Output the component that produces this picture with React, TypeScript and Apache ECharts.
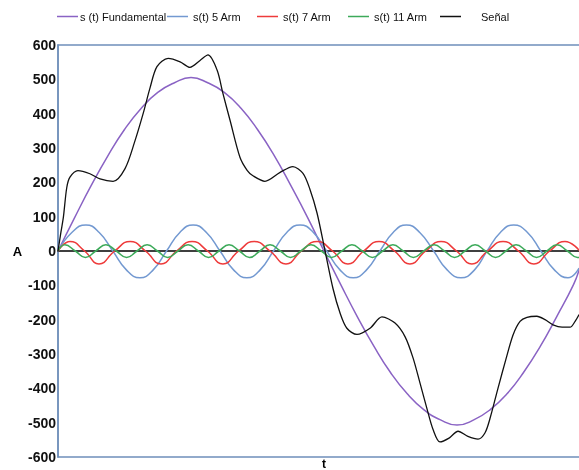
import React, { useEffect, useRef } from 'react';
import * as echarts from 'echarts';

const seriesNames = ['s (t) Fundamental', 's(t) 5 Arm', 's(t) 7 Arm', 's(t) 11 Arm', 'Señal'];

// time t in ms (one 20 ms period of the fundamental)
const fundT = [0, 0.63, 1.25, 1.88, 2.5, 3.13, 3.75, 4.38, 5, 5.63, 6.25, 6.88, 7.5, 8.13, 8.75, 9.38, 10, 10.63, 11.25, 11.88, 12.5, 13.13, 13.75, 14.38, 15, 15.63, 16.25, 16.88, 17.5, 18.13, 18.75, 19.38, 19.59];
const fundV = [0, 98, 191, 278, 354, 416, 462, 490, 505, 490, 462, 416, 354, 278, 191, 98, 0, -98, -191, -278, -354, -416, -462, -492, -507, -492, -462, -416, -354, -278, -191, -98, -55];

const arm5T = [0, 0.52, 1.05, 1.55, 2.06, 2.57, 3.08, 3.58, 4.08, 4.58, 5.08, 5.58, 6.09, 6.6, 7.1, 7.6, 8.1, 8.6, 9.1, 9.6, 10.1, 10.6, 11.1, 11.6, 12.1, 12.6, 13.1, 13.6, 14.12, 14.63, 15.15, 15.66, 16.13, 16.63, 17.13, 17.65, 18.15, 18.66, 19.17, 19.59];
const arm5V = [0, 54, 76, 54, 0, -55, -78, -55, 0, 54, 76, 54, 0, -55, -78, -55, 0, 54, 76, 54, 0, -55, -78, -55, 0, 54, 76, 54, 0, -55, -78, -55, 0, 54, 76, 54, 0, -55, -78, -50];

const arm7T = [0, 0.45, 1.0, 1.54, 2.13, 2.71, 3.29, 3.87, 4.46, 5.04, 5.62, 6.2, 6.79, 7.37, 7.97, 8.57, 9.15, 9.74, 10.32, 10.9, 11.49, 12.07, 12.65, 13.23, 13.82, 14.4, 14.98, 15.56, 16.15, 16.73, 17.31, 17.89, 18.48, 19.06, 19.59];
const arm7V = [0, 28, 0, -38, 0, 28, 0, -38, 0, 28, 0, -38, 0, 28, 0, -38, 0, 28, 0, -38, 0, 28, 0, -38, 0, 28, 0, -38, 0, 28, 0, -38, 0, 28, 2];

const arm11T = [0, 0.26, 0.65, 1.03, 1.42, 1.8, 2.19, 2.58, 2.97, 3.35, 3.74, 4.12, 4.51, 4.89, 5.28, 5.66, 6.05, 6.43, 6.82, 7.2, 7.59, 7.97, 8.36, 8.74, 9.13, 9.51, 9.9, 10.28, 10.67, 11.05, 11.44, 11.82, 12.21, 12.59, 12.98, 13.36, 13.75, 14.14, 14.53, 14.91, 15.3, 15.68, 16.07, 16.45, 16.84, 17.22, 17.61, 17.99, 18.38, 18.76, 19.15, 19.53, 19.59];
const arm11V = [0, 18, 0, -19, 0, 18, 0, -19, 0, 18, 0, -19, 0, 18, 0, -19, 0, 18, 0, -19, 0, 18, 0, -19, 0, 18, 0, -19, 0, 18, 0, -19, 0, 18, 0, -19, 0, 18, 0, -19, 0, 18, 0, -19, 0, 18, 0, -19, 0, 18, 0, -19, -19];

const signalT = [0, 0.11, 0.2, 0.33, 0.45, 0.75, 1.2, 1.58, 2.07, 2.52, 2.89, 3.2, 3.46, 3.72, 4.14, 4.59, 4.96, 5.34, 5.64, 5.98, 6.2, 6.47, 6.84, 7.11, 7.33, 7.78, 8.35, 8.83, 9.21, 9.47, 9.74, 10.04, 10.34, 10.6, 10.86, 11.24, 11.73, 12.18, 12.67, 13.05, 13.35, 13.61, 13.87, 14.1, 14.36, 14.7, 15.04, 15.41, 15.79, 16.05, 16.24, 16.54, 16.84, 17.11, 17.37, 17.63, 18.0, 18.31, 18.61, 18.95, 19.25, 19.44, 19.59];
const signalV = [0, 55, 97, 185, 215, 234, 225, 210, 203, 240, 320, 400, 475, 537, 561, 551, 535, 555, 571, 527, 459, 380, 273, 235, 219, 203, 229, 246, 226, 180, 110, 0, -110, -180, -225, -243, -225, -192, -210, -250, -312, -385, -459, -520, -556, -545, -525, -540, -548, -530, -488, -400, -315, -244, -205, -193, -190, -200, -215, -222, -222, -205, -185];

const yTicks = { min: -600, max: 600, interval: 100 };

const colors = ['#8a63c4', '#7399d1', '#ee3b3b', '#3daa5a', '#111111'];

const zip = (t: number[], v: number[]) => t.map((x, i) => [x, v[i]]);

export default function App() {
  const ref = useRef<HTMLDivElement>(null);
  useEffect(() => {
    document.body.style.margin = '0';
    const chart = echarts.init(ref.current!, null, { renderer: 'svg' });
    const legendLefts = [57, 167, 257, 348, 440];
    const legends = seriesNames.map((n, i) => ({
      data: [n],
      left: legendLefts[i],
      top: 11,
      padding: 0,
      icon: 'rect',
      itemWidth: 21,
      itemHeight: 1.5,
      itemGap: 0,
      selectedMode: false,
      textStyle: {
        fontFamily: 'Liberation Sans, Arial, sans-serif',
        fontSize: 11,
        color: '#111',
        padding: i === 4 ? [0, 0, 0, 15] : i === 0 ? [0, 0, 0, -3] : 0,
      },
    }));
    const datasets = [zip(fundT, fundV), zip(arm5T, arm5V), zip(arm7T, arm7V), zip(arm11T, arm11V), zip(signalT, signalV)];
    chart.setOption({
      animation: false,
      color: colors,
      legend: legends,
      grid: {
        left: 58,
        top: 45,
        right: 10,
        bottom: 13,
        containLabel: false,
        outerBoundsMode: 'none',
        show: true,
        borderColor: '#6f8fba',
        borderWidth: 1.5,
        backgroundColor: 'transparent',
      },
      xAxis: {
        type: 'value',
        min: 0,
        max: 20,
        name: 't',
        nameLocation: 'middle',
        nameGap: 1,
        nameTextStyle: { fontFamily: 'Liberation Sans, Arial, sans-serif', fontSize: 12, fontWeight: 'bold', color: '#000', lineHeight: 11 },
        axisLine: { show: true, onZero: true, lineStyle: { color: '#000', width: 1.5 } },
        axisTick: { show: false },
        axisLabel: { show: false },
        splitLine: { show: false },
      },
      yAxis: {
        type: 'value',
        min: yTicks.min,
        max: yTicks.max,
        interval: yTicks.interval,
        name: 'A',
        nameLocation: 'middle',
        nameRotate: 0,
        nameGap: 35,
        nameTextStyle: { fontFamily: 'Liberation Sans, Arial, sans-serif', fontSize: 13, fontWeight: 'bold', color: '#000' },
        axisLine: { show: true, lineStyle: { color: '#6f8fba', width: 1.5 } },
        axisTick: { show: false },
        axisLabel: {
          margin: 2,
          fontFamily: 'Liberation Sans, Arial, sans-serif',
          fontSize: 14,
          fontWeight: 'bold',
          color: '#111',
        },
        splitLine: { show: false },
      },
      series: seriesNames.map((n, i) => ({
        name: n,
        type: 'line',
        data: datasets[i],
        showSymbol: false,
        symbol: 'none',
        smooth: i === 4 ? 0.3 : 0.5,
        lineStyle: { width: i === 4 ? 1.3 : 1.5, color: colors[i] },
        z: i === 4 ? 3 : 2,
      })),
    });
    return () => chart.dispose();
  }, []);
  return (
    <div style={{ position: 'fixed', left: 0, top: 0, width: 579, height: 470, overflow: 'hidden' }}>
      <div ref={ref} style={{ width: 600, height: 470 }} />
    </div>
  );
}
